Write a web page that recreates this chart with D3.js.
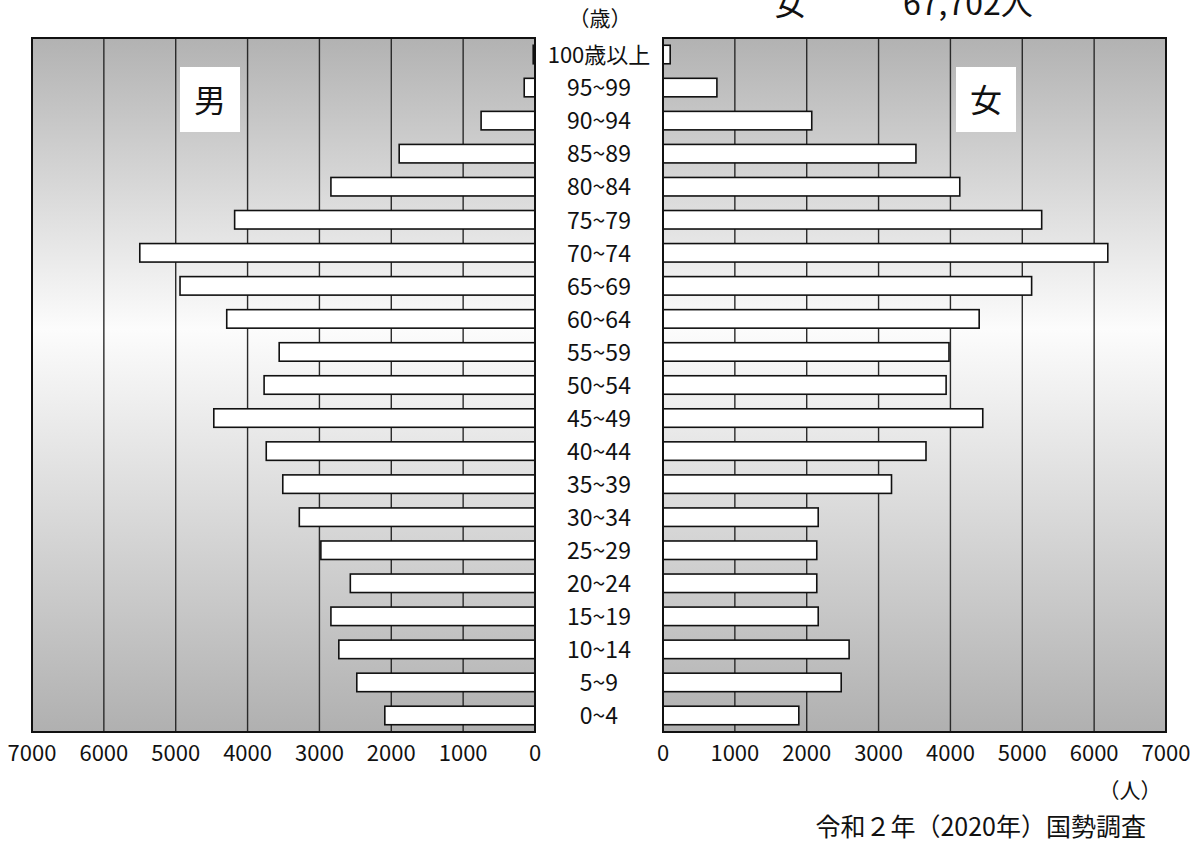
<!DOCTYPE html>
<html>
<head>
<meta charset="utf-8">
<script src="https://cdn.jsdelivr.net/npm/d3@7"></script>
<style>
  body { margin: 0; background: #fff; }
  text { font-family: "Noto Sans CJK JP", "Noto Sans", sans-serif; fill: #111; }
</style>
</head>
<body>
<svg id="pyramid" width="1199" height="842"></svg>
<script>
// age groups, top to bottom
let age_groups = ['100歳以上', '95~99', '90~94', '85~89', '80~84', '75~79', '70~74',
	'65~69', '60~64', '55~59', '50~54', '45~49', '40~44', '35~39', '30~34',
	'25~29', '20~24', '15~19', '10~14', '5~9', '0~4'];

let male_values = [25, 150, 750, 1890, 2840, 4180, 5500, 4940, 4290, 3560, 3770,
	4470, 3740, 3510, 3280, 2980, 2570, 2840, 2730, 2480, 2090];

let female_values = [100, 750, 2070, 3520, 4130, 5270, 6190, 5130, 4400, 3980, 3940,
	4450, 3660, 3180, 2160, 2140, 2140, 2160, 2590, 2480, 1890];

let tick_values = [0, 1000, 2000, 3000, 4000, 5000, 6000, 7000];

let total_label = ['女', '67,702人'];
let source_label = '令和２年（2020年）国勢調査';

let panel_top = 38,
	panel_bottom = 732;

let svg = d3.select('#pyramid');

let left_x = d3.scaleLinear().domain([0, 7000]).range([535, 32]);
let right_x = d3.scaleLinear().domain([0, 7000]).range([663, 1166]);

let row_y = d3.scaleBand()
	.domain(age_groups)
	.range([panel_top, panel_bottom])
	.paddingInner(0.44)
	.paddingOuter(0.22);

// background gradient
let grad = svg.append('defs')
	.append('linearGradient')
	.attr('id', 'bg-grad')
	.attr('x1', '0%').attr('y1', '0%')
	.attr('x2', '0%').attr('y2', '100%');
grad.append('stop').attr('offset', '0%').attr('stop-color', '#b2b2b2');
grad.append('stop').attr('offset', '42%').attr('stop-color', '#fcfcfc');
grad.append('stop').attr('offset', '100%').attr('stop-color', '#b0b0b0');

function draw_panel(xs, values, cls) {
	let x0 = Math.min(xs(0), xs(7000)), x1 = Math.max(xs(0), xs(7000));

	svg.append('rect')
		.attr('x', x0).attr('y', panel_top)
		.attr('width', x1 - x0).attr('height', panel_bottom - panel_top)
		.attr('fill', 'url(#bg-grad)');

	svg.selectAll('.grid-' + cls)
		.data(tick_values.slice(1, -1))
		.enter().append('line')
		.attr('class', 'grid-' + cls)
		.attr('x1', d => xs(d)).attr('x2', d => xs(d))
		.attr('y1', panel_top).attr('y2', panel_bottom)
		.attr('stroke', '#2a2a2a')
		.attr('stroke-width', 1.4);

	svg.selectAll('.bar-' + cls)
		.data(values)
		.enter().append('rect')
		.attr('class', 'bar-' + cls)
		.attr('x', d => Math.min(xs(0), xs(d)))
		.attr('y', (d, i) => row_y(age_groups[i]))
		.attr('width', d => Math.abs(xs(d) - xs(0)))
		.attr('height', row_y.bandwidth())
		.attr('fill', '#fff')
		.attr('stroke', '#111')
		.attr('stroke-width', 1.6);

	svg.append('rect')
		.attr('x', x0).attr('y', panel_top)
		.attr('width', x1 - x0).attr('height', panel_bottom - panel_top)
		.attr('fill', 'none')
		.attr('stroke', '#111')
		.attr('stroke-width', 2);

	svg.selectAll('.tick-' + cls)
		.data(tick_values)
		.enter().append('text')
		.attr('class', 'tick-' + cls)
		.attr('x', d => xs(d))
		.attr('y', 761)
		.attr('text-anchor', 'middle')
		.attr('font-size', 22)
		.text(d => d);
}

draw_panel(left_x, male_values, 'm');
draw_panel(right_x, female_values, 'f');

// age labels in the middle
svg.selectAll('.age-label')
	.data(age_groups)
	.enter().append('text')
	.attr('class', 'age-label')
	.attr('x', 599)
	.attr('y', d => row_y(d) + row_y.bandwidth() / 2)
	.attr('dy', '0.38em')
	.attr('text-anchor', 'middle')
	.attr('font-size', d => d.length > 5 ? 22 : 23)
	.text(d => d);

svg.append('text')
	.attr('x', 600).attr('y', 26)
	.attr('text-anchor', 'middle')
	.attr('font-size', 21)
	.text('（歳）');

// sex labels
[['男', 180], ['女', 956]].forEach(function(s) {
	svg.append('rect')
		.attr('x', s[1]).attr('y', 67)
		.attr('width', 60).attr('height', 65)
		.attr('fill', '#fff');
	svg.append('text')
		.attr('x', s[1] + 30).attr('y', 100)
		.attr('dy', '0.36em')
		.attr('text-anchor', 'middle')
		.attr('font-size', 32)
		.text(s[0]);
});

// total (cut at the top, as in the source)
svg.append('text')
	.attr('x', 790).attr('y', 15)
	.attr('text-anchor', 'middle')
	.attr('font-size', 32)
	.text(total_label[0]);
svg.append('text')
	.attr('x', 903).attr('y', 15)
	.attr('font-size', 32)
	.text(total_label[1]);

svg.append('text')
	.attr('x', 1130).attr('y', 798)
	.attr('text-anchor', 'middle')
	.attr('font-size', 21)
	.text('（人）');

svg.append('text')
	.attr('x', 1146).attr('y', 836)
	.attr('text-anchor', 'end')
	.attr('font-size', 25)
	.text(source_label);
</script>
</body>
</html>
